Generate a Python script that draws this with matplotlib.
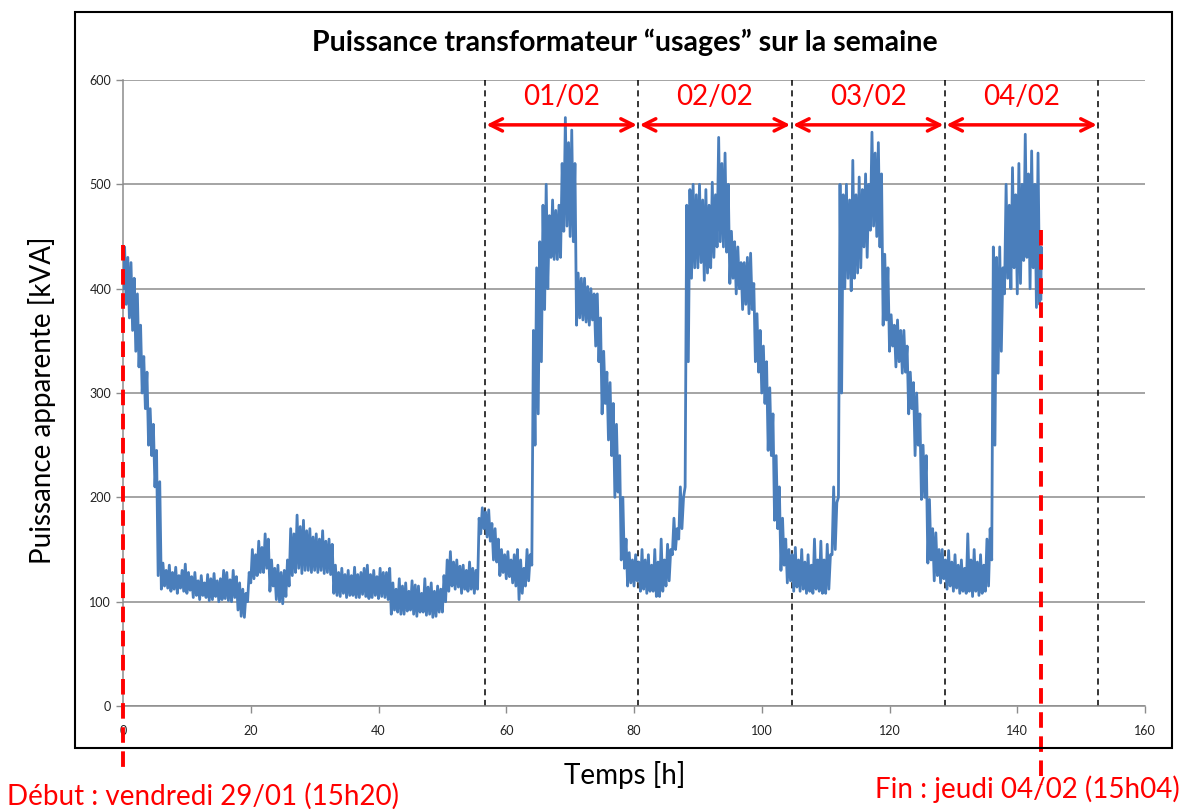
import numpy as np
import matplotlib
matplotlib.use("Agg")
import matplotlib.pyplot as plt
from matplotlib.patches import Rectangle

plt.rcParams['font.family'] = ['Lato', 'DejaVu Sans']

# Apparent power envelope [kVA], one low / high reading per half hour
half_hours = np.arange(0, 144, 0.5)
p_low = [
    400, 385, 372, 360, 340, 325, 300, 285, 250, 240, 210, 125,
    112, 115, 113, 110, 112, 108, 113, 110, 108, 111, 104, 106,
    102, 106, 104, 101, 102, 105, 100, 102, 103, 101, 100, 104,
    92, 86, 85, 100, 118, 122, 125, 128, 128, 132, 110, 115,
    102, 100, 98, 105, 115, 125, 128, 132, 127, 130, 130, 128,
    130, 128, 130, 127, 128, 126, 108, 106, 105, 108, 104, 106,
    106, 104, 104, 107, 105, 103, 104, 106, 103, 105, 104, 102,
    88, 92, 90, 88, 88, 91, 92, 88, 86, 90, 90, 87,
    88, 85, 86, 90, 90, 100, 110, 115, 112, 114, 108, 112,
    110, 112, 108, 112, 165, 170, 162, 158, 140, 138, 125, 128,
    122, 124, 118, 115, 102, 108, 115, 120, 135, 250, 280, 330,
    380, 400, 430, 428, 428, 430, 455, 460, 450, 445, 365, 372,
    370, 368, 365, 370, 345, 330, 280, 290, 255, 240, 200, 205,
    140, 132, 115, 118, 115, 120, 110, 112, 108, 110, 110, 105,
    105, 110, 115, 120, 145, 150, 160, 170, 210, 330, 410, 420,
    420, 425, 408, 415, 420, 430, 440, 445, 440, 435, 405, 410,
    395, 400, 380, 385, 376, 380, 330, 320, 300, 290, 245, 240,
    178, 170, 130, 135, 118, 120, 110, 114, 110, 112, 108, 110,
    108, 112, 110, 108, 108, 112, 145, 150, 200, 300, 400, 410,
    398, 410, 415, 420, 440, 430, 456, 460, 450, 440, 365, 370,
    340, 345, 325, 330, 319, 320, 280, 285, 240, 250, 198, 200,
    137, 140, 120, 125, 118, 122, 112, 115, 110, 113, 108, 110,
    108, 110, 105, 110, 106, 108, 110, 115, 140, 250, 319, 340,
    395, 410, 400, 420, 395, 405, 427, 430, 400, 420, 382, 385,
]
p_high = [
    440, 430, 425, 410, 395, 365, 335, 320, 285, 270, 245, 215,
    137, 130, 135, 128, 133, 125, 130, 136, 128, 124, 128, 120,
    125, 118, 126, 122, 127, 120, 122, 130, 128, 121, 130, 124,
    118, 112, 108, 128, 150, 145, 158, 152, 165, 160, 140, 132,
    135, 128, 130, 140, 170, 165, 183, 172, 178, 168, 170, 162,
    165, 160, 168, 158, 160, 155, 135, 128, 132, 126, 130, 125,
    133, 126, 128, 132, 135, 126, 130, 124, 132, 128, 128, 132,
    118, 112, 122, 115, 118, 110, 120, 116, 115, 108, 122, 114,
    118, 110, 115, 112, 125, 140, 148, 138, 140, 134, 135, 130,
    138, 132, 130, 180, 190, 186, 188, 175, 170, 160, 150, 145,
    148, 140, 145, 150, 140, 132, 150, 145, 360, 420, 445, 480,
    500, 470, 485, 475, 480, 520, 564, 540, 552, 520, 415, 410,
    410, 402, 400, 395, 395, 372, 340, 320, 310, 290, 270, 240,
    200, 160, 147, 140, 145, 138, 150, 140, 145, 135, 150, 138,
    160, 140, 155, 150, 180, 170, 210, 200, 480, 495, 500, 490,
    500, 485, 495, 480, 502, 490, 545, 520, 530, 500, 455, 445,
    440, 425, 425, 430, 434, 405, 376, 360, 345, 330, 305, 280,
    240, 210, 180, 160, 150, 145, 152, 140, 150, 138, 145, 135,
    160, 140, 158, 140, 155, 145, 210, 195, 500, 490, 500, 485,
    523, 490, 507, 495, 510, 500, 550, 530, 540, 510, 433, 420,
    375, 365, 370, 360, 360, 345, 320, 310, 300, 280, 250, 240,
    198, 170, 166, 150, 150, 140, 149, 138, 145, 135, 140, 132,
    165, 140, 150, 138, 145, 135, 160, 170, 440, 430, 440, 420,
    500, 480, 516, 490, 520, 500, 548, 510, 532, 500, 530, 440,
]
t_end, p_end = 143.7, 390

# Day boundaries (midnight) and day labels
midnights = [56.67, 80.67, 104.67, 128.67, 152.67]
day_labels = ["01/02", "02/02", "03/02", "04/02"]

t_start_mark, start_mark_top = 0.0, 442
end_mark_top = 456

fig = plt.figure(figsize=(11.92, 8.09), dpi=100)
ax = fig.add_axes([0.1032, 0.1273, 0.8574, 0.7738])

# zig-zag between the low and high of each half hour
n = len(half_hours)
t = np.empty(2 * n + 1)
p = np.empty(2 * n + 1)
t[0:-1:2] = half_hours
t[1:-1:2] = half_hours + 0.25
t[-1] = t_end
p[0:-1:2] = p_low
p[1:-1:2] = p_high
p[-1] = p_end
ax.plot(t, p, color='#4A7EBB', lw=2.0, zorder=3)

ax.set_xlim(0, 160)
ax.set_ylim(0, 600)
ax.set_xticks(np.arange(0, 161, 20))
ax.set_yticks(np.arange(0, 601, 100))
ax.grid(axis='y', color='#8c8c8c', lw=1.1)
ax.set_axisbelow(True)
for s in ['top', 'right']:
    ax.spines[s].set_visible(False)
for s in ['left', 'bottom']:
    ax.spines[s].set_color('#8c8c8c')
    ax.spines[s].set_linewidth(1.1)
ax.tick_params(colors='#8c8c8c', labelcolor='#222222', labelsize=9,
               length=5, width=1)
ax.tick_params(axis='x', pad=9)

# midnight separators and day arrows
for m in midnights:
    ax.axvline(m, color='black', lw=1.1, ls=(0, (4, 3)), zorder=2)
for i, lab in enumerate(day_labels):
    a, b = midnights[i], midnights[i + 1]
    ax.annotate('', xy=(b, 557), xytext=(a, 557),
                arrowprops=dict(arrowstyle='<->', color='red', lw=2.5,
                                mutation_scale=22, shrinkA=1, shrinkB=1))
    ax.text((a + b) / 2, 584, lab, color='red', fontsize=20,
            ha='center', va='center')

# start / end markers
ax.plot([t_start_mark, t_start_mark], [start_mark_top, -66], color='red',
        lw=2.8, ls=(0, (4, 2.2)), clip_on=False, zorder=4)
ax.plot([t_end, t_end], [end_mark_top, -76], color='red',
        lw=2.8, ls=(0, (4, 2.2)), clip_on=False, zorder=4)

# outer frame
fig.patches.append(Rectangle((0.0629, 0.0754), 0.9203, 0.9098,
                             transform=fig.transFigure, fill=False,
                             edgecolor='black', lw=1.5))

fig.text(0.524, 0.948, "Puissance transformateur \u201cusages\u201d sur la semaine",
         ha='center', va='center', fontsize=20.5, fontweight='bold')
fig.text(0.035, 0.505, "Puissance apparente [kVA]", rotation=90,
         ha='center', va='center', fontsize=20)
fig.text(0.524, 0.042, "Temps [h]", ha='center', va='center', fontsize=20)
fig.text(0.006, 0.016, "D\u00e9but : vendredi 29/01 (15h20)", color='red',
         ha='left', va='center', fontsize=20)
fig.text(0.99, 0.024, "Fin : jeudi 04/02 (15h04)", color='red',
         ha='right', va='center', fontsize=20)

fig.savefig("out.png", dpi=100)
